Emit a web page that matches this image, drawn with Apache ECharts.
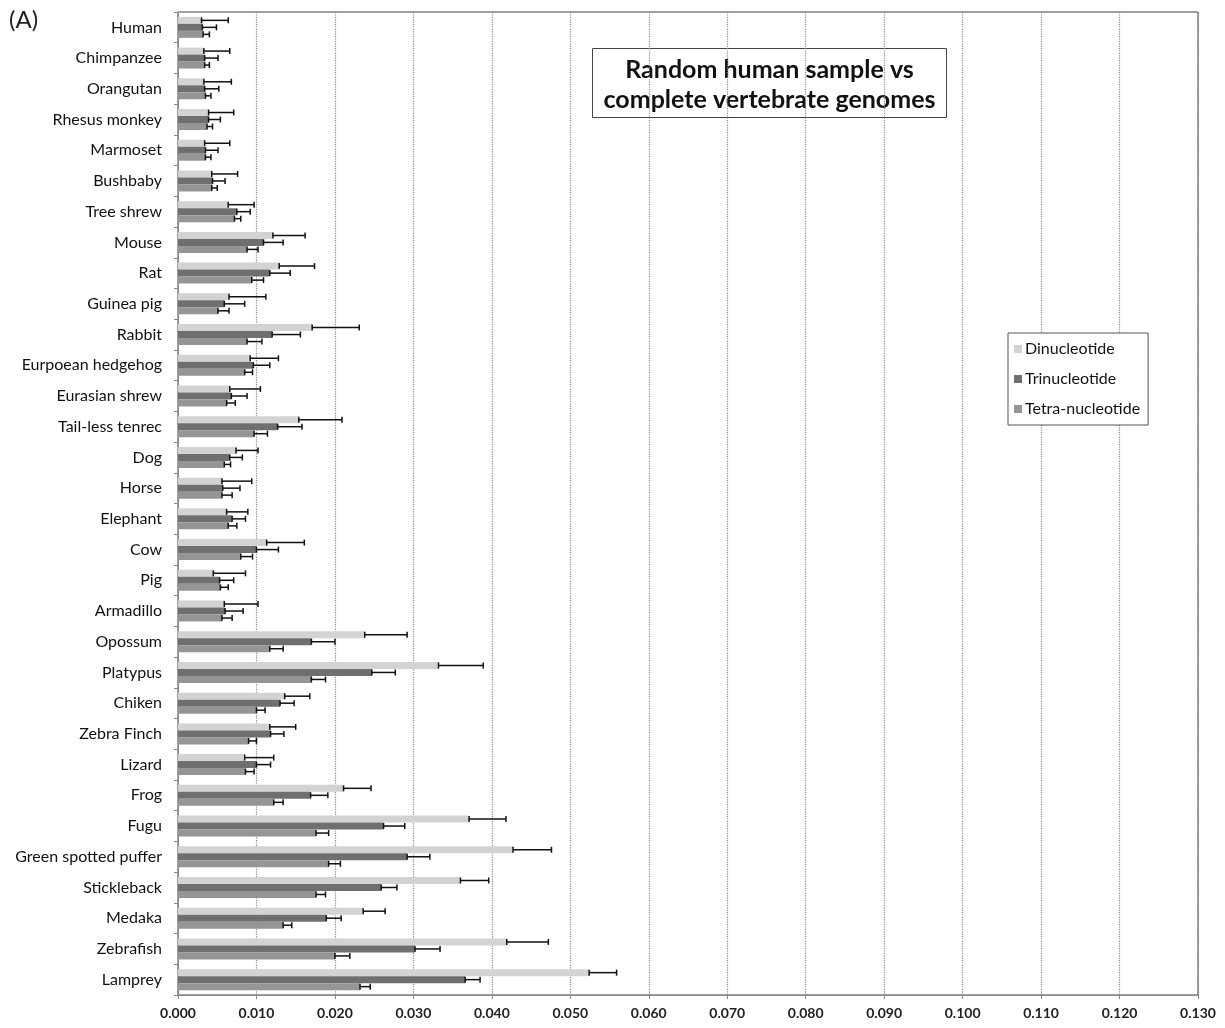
<!DOCTYPE html>
<html>
<head>
<meta charset="utf-8">
<script src="https://cdn.jsdelivr.net/npm/echarts@6/dist/echarts.min.js"></script>
<style>
  html, body { margin: 0; padding: 0; background: #fff; }
  #chart { width: 1225px; height: 1028px; }
</style>
</head>
<body>
<div id="chart"></div>
<script>
// Species compared against the random human sample
const species = ['Human', 'Chimpanzee', 'Orangutan', 'Rhesus monkey', 'Marmoset', 'Bushbaby',
  'Tree shrew', 'Mouse', 'Rat', 'Guinea pig', 'Rabbit', 'Eurpoean hedgehog', 'Eurasian shrew',
  'Tail-less tenrec', 'Dog', 'Horse', 'Elephant', 'Cow', 'Pig', 'Armadillo', 'Opossum',
  'Platypus', 'Chiken', 'Zebra Finch', 'Lizard', 'Frog', 'Fugu', 'Green spotted puffer',
  'Stickleback', 'Medaka', 'Zebrafish', 'Lamprey'];

// Mean distances
const dinucleotide = [0.0030, 0.0033, 0.0033, 0.0039, 0.0034, 0.0043, 0.0064, 0.0121, 0.0129, 0.0065,
  0.0171, 0.0092, 0.0066, 0.0154, 0.0074, 0.0056, 0.0062, 0.0113, 0.0045, 0.0059, 0.0238,
  0.0332, 0.0136, 0.0117, 0.0085, 0.0211, 0.0371, 0.0427, 0.0360, 0.0236, 0.0419, 0.0524];
const trinucleotide = [0.0031, 0.0034, 0.0034, 0.0039, 0.0035, 0.0044, 0.0075, 0.0109, 0.0117, 0.0059,
  0.0120, 0.0096, 0.0068, 0.0127, 0.0066, 0.0057, 0.0069, 0.0100, 0.0053, 0.0060, 0.0170,
  0.0247, 0.0130, 0.0118, 0.0100, 0.0169, 0.0262, 0.0292, 0.0259, 0.0189, 0.0302, 0.0366];
const tetranucleotide = [0.0032, 0.0034, 0.0035, 0.0037, 0.0035, 0.0043, 0.0072, 0.0088, 0.0094, 0.0051,
  0.0088, 0.0085, 0.0062, 0.0097, 0.0059, 0.0056, 0.0064, 0.0080, 0.0054, 0.0056, 0.0117,
  0.0170, 0.0100, 0.0090, 0.0086, 0.0122, 0.0176, 0.0192, 0.0176, 0.0134, 0.0200, 0.0232];

// Upper ends of the error bars
const dinucleotideHigh = [0.0064, 0.0066, 0.0068, 0.0071, 0.0066, 0.0076, 0.0097, 0.0162, 0.0174, 0.0112,
  0.0231, 0.0128, 0.0105, 0.0209, 0.0102, 0.0094, 0.0089, 0.0161, 0.0086, 0.0102, 0.0292,
  0.0389, 0.0168, 0.0150, 0.0122, 0.0246, 0.0418, 0.0476, 0.0396, 0.0264, 0.0472, 0.0559];
const trinucleotideHigh = [0.0049, 0.0051, 0.0052, 0.0054, 0.0051, 0.0060, 0.0092, 0.0134, 0.0143, 0.0085,
  0.0156, 0.0117, 0.0088, 0.0158, 0.0082, 0.0079, 0.0086, 0.0128, 0.0071, 0.0083, 0.0200,
  0.0277, 0.0148, 0.0135, 0.0118, 0.0191, 0.0289, 0.0321, 0.0279, 0.0208, 0.0334, 0.0385];
const tetranucleotideHigh = [0.0040, 0.0040, 0.0042, 0.0044, 0.0042, 0.0050, 0.0080, 0.0102, 0.0109, 0.0065,
  0.0107, 0.0095, 0.0073, 0.0114, 0.0067, 0.0069, 0.0075, 0.0095, 0.0064, 0.0069, 0.0134,
  0.0188, 0.0111, 0.0100, 0.0097, 0.0134, 0.0192, 0.0207, 0.0188, 0.0145, 0.0219, 0.0245];

const seriesNames = ['Dinucleotide', 'Trinucleotide', 'Tetra-nucleotide'];
const seriesColors = ['#d3d3d3', '#6f6f6f', '#959595'];
const BAR = 7;
const FONT = 'Lato, "Open Sans", sans-serif';

const chart = echarts.init(document.getElementById('chart'));

// Error bar from the mean to its upper end, capped at both ends
function errorSeries(values, highs, offset, name) {
  return {
    type: 'custom',
    name: name + ' error',
    z: 5,
    silent: true,
    data: values.map((v, i) => [i, v, highs[i]]),
    encode: { y: 0, x: [1, 2] },
    renderItem: function (params, api) {
      const a = api.coord([api.value(1), api.value(0)]);
      const b = api.coord([api.value(2), api.value(0)]);
      const y = a[1] + offset;
      const cap = 3;
      const style = { stroke: '#111', lineWidth: 1.5 };
      return {
        type: 'group',
        children: [
          { type: 'line', shape: { x1: a[0], y1: y, x2: b[0], y2: y }, style: style },
          { type: 'line', shape: { x1: a[0], y1: y - cap, x2: a[0], y2: y + cap }, style: style },
          { type: 'line', shape: { x1: b[0], y1: y - cap, x2: b[0], y2: y + cap }, style: style }
        ]
      };
    }
  };
}

const values = [dinucleotide, trinucleotide, tetranucleotide];
const highs = [dinucleotideHigh, trinucleotideHigh, tetranucleotideHigh];

const series = [];
values.forEach((vals, k) => {
  series.push({
    type: 'bar',
    name: seriesNames[k],
    data: vals,
    barWidth: BAR,
    barGap: '0%',
    itemStyle: { color: seriesColors[k] },
    z: 2
  });
});
values.forEach((vals, k) => {
  series.push(errorSeries(vals, highs[k], (k - 1) * BAR, seriesNames[k]));
});

chart.setOption({
  animation: false,
  backgroundColor: '#fff',
  grid: {
    left: 178, right: 27, top: 12, bottom: 33,
    show: true, borderColor: '#444', borderWidth: 1, backgroundColor: 'transparent'
  },
  legend: {
    data: seriesNames,
    orient: 'vertical',
    left: 1008, top: 333,
    itemWidth: 8, itemHeight: 8, itemGap: 14,
    padding: [8, 8, 8, 6],
    borderColor: '#555', borderWidth: 1, backgroundColor: '#fff',
    icon: 'rect',
    textStyle: { fontFamily: FONT, fontSize: 16, color: '#111', padding: [0, 0, 0, -2] }
  },
  graphic: [
    { type: 'text', left: 9, top: 8, style: { text: '(A)', fontFamily: FONT, fontSize: 24, fill: '#222' } },
    {
      type: 'group', left: 592, top: 48, z: 10,
      children: [
        { type: 'rect', shape: { x: 0, y: 0, width: 354, height: 69 },
          style: { fill: '#fff', stroke: '#444', lineWidth: 1 } },
        { type: 'text', x: 177, y: 6,
          style: { text: 'Random human sample vs\ncomplete vertebrate genomes', fontFamily: FONT,
            fontWeight: 'bold', fontSize: 25, lineHeight: 30, fill: '#111', align: 'center' } }
      ]
    }
  ],
  xAxis: {
    type: 'value',
    min: 0, max: 0.13, interval: 0.01,
    axisLine: { show: true, lineStyle: { color: '#888', type: 'dotted' } },
    axisTick: { show: true, length: 4, lineStyle: { color: '#888' } },
    axisLabel: { formatter: v => v.toFixed(3), fontFamily: FONT, fontSize: 14, fontWeight: 'bold',
      color: '#222', margin: 11 },
    splitLine: { show: true, lineStyle: { color: '#8a8a8a', type: 'dotted', width: 1.2 } }
  },
  yAxis: {
    type: 'category',
    data: species,
    inverse: true,
    axisLine: { show: true, lineStyle: { color: '#888', type: 'dotted' } },
    axisTick: { show: true, length: 4, lineStyle: { color: '#888' } },
    axisLabel: { fontFamily: FONT, fontSize: 16, color: '#111', margin: 16 }
  },
  series: series
});
</script>
</body>
</html>
